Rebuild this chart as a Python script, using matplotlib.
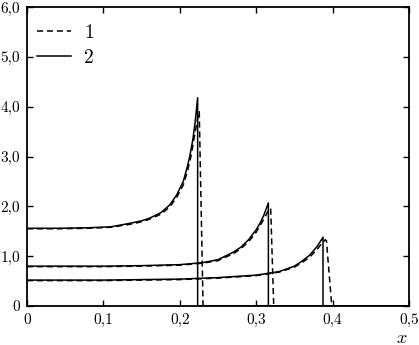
import matplotlib
matplotlib.use('Agg')
import matplotlib.pyplot as plt

plt.rcParams['font.family'] = 'cmr10'
plt.rcParams['mathtext.fontset'] = 'cm'
plt.rcParams['axes.formatter.use_mathtext'] = True

# series 1 (dashed), three profiles
x1a = [0, 0.04, 0.08, 0.11, 0.135, 0.15, 0.16, 0.175, 0.187, 0.196, 0.2046, 0.21, 0.215, 0.22, 0.2245, 0.2255, 0.2305, 0.5]
y1a = [1.55, 1.55, 1.56, 1.58, 1.64, 1.69, 1.74, 1.84, 1.99, 2.18, 2.43, 2.70, 3.03, 3.48, 3.86, 3.90, 0, 0]
x1b = [0, 0.1, 0.15, 0.2, 0.23, 0.25, 0.27, 0.28, 0.29, 0.30, 0.31, 0.316, 0.319, 0.323, 0.5]
y1b = [0.79, 0.79, 0.80, 0.82, 0.86, 0.91, 1.05, 1.15, 1.29, 1.48, 1.74, 1.92, 1.96, 0, 0]
x1c = [0, 0.1, 0.2, 0.25, 0.3, 0.33, 0.35, 0.36, 0.37, 0.38, 0.386, 0.3905, 0.392, 0.399, 0.5]
y1c = [0.51, 0.51, 0.53, 0.56, 0.61, 0.68, 0.78, 0.87, 0.98, 1.14, 1.26, 1.33, 1.31, 0, 0]

# series 2 (solid)
x2a = [0, 0.04, 0.08, 0.11, 0.135, 0.15, 0.16, 0.175, 0.187, 0.196, 0.2046, 0.21, 0.213, 0.217, 0.22, 0.2234, 0.2234, 0.5]
y2a = [1.56, 1.56, 1.57, 1.59, 1.66, 1.71, 1.76, 1.87, 2.03, 2.23, 2.50, 2.80, 3.00, 3.33, 3.67, 4.18, 0, 0]
x2b = [0, 0.1, 0.15, 0.2, 0.23, 0.25, 0.27, 0.28, 0.29, 0.30, 0.305, 0.31, 0.316, 0.316, 0.5]
y2b = [0.80, 0.80, 0.81, 0.83, 0.87, 0.93, 1.08, 1.18, 1.33, 1.53, 1.66, 1.82, 2.07, 0, 0]
x2c = [0, 0.1, 0.2, 0.25, 0.3, 0.33, 0.35, 0.36, 0.37, 0.38, 0.385, 0.3875, 0.3875, 0.5]
y2c = [0.52, 0.52, 0.54, 0.57, 0.62, 0.69, 0.80, 0.90, 1.02, 1.20, 1.32, 1.38, 0, 0]

xticks = [0, 0.1, 0.2, 0.3, 0.4, 0.5]
xlabels = ['0', '0,1', '0,2', '0,3', '0,4', '0,5']
yticks = [0, 1, 2, 3, 4, 5, 6]
ylabels = ['0', '1,0', '2,0', '3,0', '4,0', '5,0', '6,0']

fig = plt.figure(figsize=(4.19, 3.45), dpi=100)
ax = fig.add_axes([0.0644, 0.113, 0.9116, 0.8667])

dash = (0, (4, 2.5))
ax.plot(x1a, y1a, color='black', lw=1.1, linestyle=dash, label='1')
ax.plot(x1b, y1b, color='black', lw=1.1, linestyle=dash)
ax.plot(x1c, y1c, color='black', lw=1.1, linestyle=dash)
ax.plot(x2a, y2a, color='black', lw=1.1, label='2')
ax.plot(x2b, y2b, color='black', lw=1.1)
ax.plot(x2c, y2c, color='black', lw=1.1)

ax.set_xlim(0, 0.5)
ax.set_ylim(0, 6)
ax.set_xticks(xticks)
ax.set_xticklabels(xlabels, fontsize=11)
ax.set_yticks(yticks)
ax.set_yticklabels(ylabels, fontsize=11)
ax.tick_params(direction='in', length=4, width=1, top=True, right=True, pad=5)
for s in ax.spines.values():
    s.set_linewidth(1.3)

ax.text(0.981, -0.082, '$x$', transform=ax.transAxes, ha='center', va='top', fontsize=13)

ax.legend(loc='upper left', bbox_to_anchor=(0.0, 0.975), frameon=False, fontsize=14,
          handlelength=1.75, handletextpad=0.7, borderaxespad=0.1, labelspacing=0.35)

fig.savefig('out.png', dpi=100)
